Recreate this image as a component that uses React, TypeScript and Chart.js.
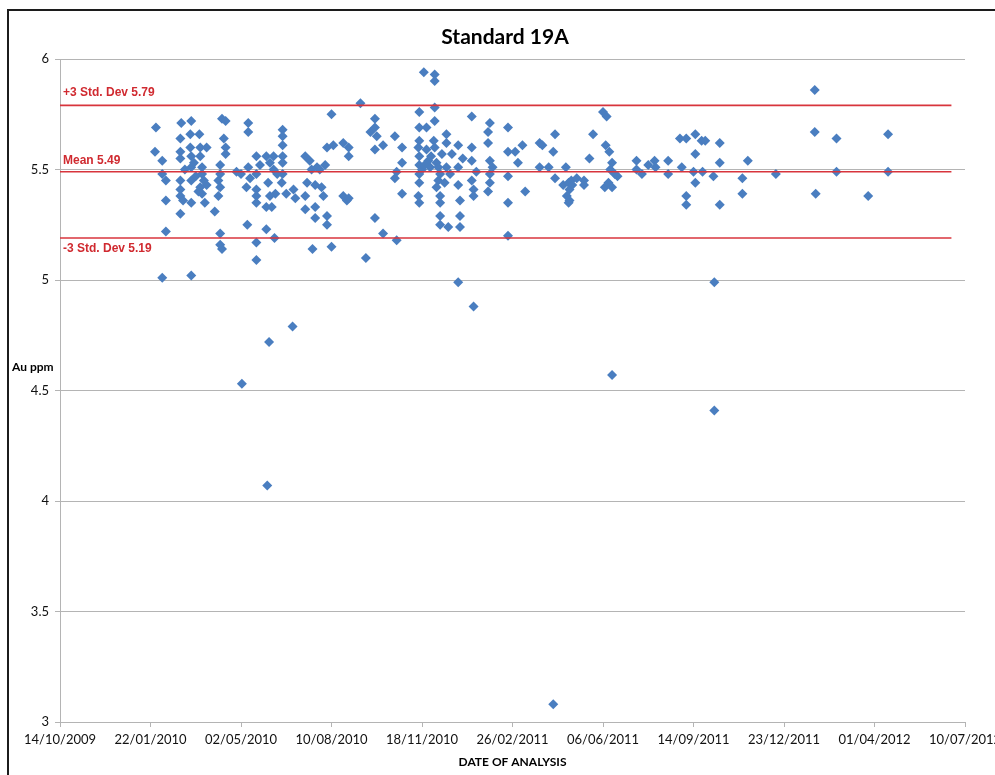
import React, { useEffect, useRef } from "react";
import { Chart, registerables } from "chart.js";

Chart.register(...registerables);

// Chart text
const chartTitle = "Standard 19A";
const yAxisTitle = "Au ppm";
const xAxisTitle = "DATE OF ANALYSIS";

// X axis: Excel date serial numbers (days since 30/12/1899)
const xAxisMin = 40100; // 14/10/2009
const xAxisMax = 41100; // 10/07/2012
const xAxisStep = 100;
const yAxisMin = 3;
const yAxisMax = 6;
const yAxisStep = 0.5;

// Control limits
const limitLabels = ["+3 Std. Dev 5.79", "Mean 5.49", "-3 Std. Dev 5.19"];
const limitValues = [5.79, 5.49, 5.19];
const limitStart = 40100;
const limitEnd = 41085;

// Analysis dates (Excel serials) and Au ppm results
const analysisDate = [
  40206, 40205, 40213, 40213, 40217, 40217, 40217, 40213, 40234, 40245,
  40233, 40244, 40254, 40233, 40233, 40244, 40245, 40245, 40255, 40262,
  40255, 40257, 40257, 40233, 40233, 40233, 40236, 40245, 40233, 40245,
  40255, 40257, 40262, 40260, 40253, 40245, 40279, 40283, 40283, 40283,
  40277, 40277, 40275, 40277, 40275, 40271, 40277, 40277, 40279, 40295,
  40300, 40308, 40308, 40308, 40306, 40317, 40317, 40317, 40317, 40317,
  40307, 40317, 40317, 40328, 40330, 40332, 40336, 40336, 40332, 40328,
  40334, 40338, 40328, 40337, 40346, 40346, 40346, 40346, 40346, 40346,
  40345, 40350, 40358, 40360, 40371, 40376, 40378, 40384, 40373, 40382,
  40371, 40371, 40382, 40382, 40389, 40391, 40395, 40395, 40379, 40400,
  40395, 40402, 40393, 40387, 40400, 40413, 40419, 40419, 40413, 40417,
  40419, 40432, 40443, 40448, 40448, 40450, 40448, 40457, 40448, 40457,
  40438, 40470, 40478, 40478, 40470, 40472, 40478, 40472, 40497, 40502,
  40514, 40514, 40514, 40514, 40497, 40505, 40497, 40496, 40497, 40497,
  40497, 40497, 40496, 40497, 40505, 40507, 40509, 40513, 40514, 40516,
  40520, 40518, 40516, 40520, 40520, 40520, 40520, 40529, 40527, 40527,
  40533, 40527, 40525, 40540, 40540, 40540, 40542, 40542, 40542, 40540,
  40555, 40555, 40555, 40555, 40557, 40557, 40557, 40575, 40573, 40573,
  40575, 40575, 40575, 40573,
  40595, 40595, 40595, 40595, 40595, 40603, 40606, 40611, 40614, 40630,
  40633, 40630, 40640, 40645, 40647, 40647, 40659, 40656, 40662, 40665,
  40671, 40660, 40663, 40662, 40679, 40679, 40685, 40689, 40700, 40704,
  40703, 40707, 40710, 40708, 40702, 40706, 40710, 40713, 40716, 40737,
  40737, 40743, 40750, 40757, 40758, 40772, 40772, 40785, 40792, 40787,
  40792, 40792, 40802, 40802, 40800, 40802, 40809, 40813, 40810, 40822,
  40829, 40829, 40829, 40823, 40854, 40854, 40860, 40891, 40934, 40934,
  40935, 40958, 40958, 40993, 41015, 41015,
  40301, 40331, 40357, 40329, 40710, 40823, 40645,
  40248, 40250, 40259, 40238, 40281, 40310, 40321, 40340, 40500, 40503,
  40510, 40518, 40522, 40531, 40545, 40560, 40578, 40663, 40666,
];

const auPpm = [
  5.69, 5.58, 5.54, 5.48, 5.45, 5.36, 5.22, 5.01, 5.71, 5.72,
  5.64, 5.66, 5.66, 5.58, 5.55, 5.60, 5.56, 5.51, 5.60, 5.60,
  5.56, 5.51, 5.48, 5.45, 5.41, 5.38, 5.36, 5.45, 5.30, 5.35,
  5.42, 5.39, 5.43, 5.35, 5.40, 5.02, 5.73, 5.72, 5.60, 5.57,
  5.52, 5.48, 5.45, 5.42, 5.38, 5.31, 5.21, 5.16, 5.14, 5.49,
  5.48, 5.71, 5.67, 5.51, 5.42, 5.56, 5.48, 5.41, 5.38, 5.35,
  5.25, 5.17, 5.09, 5.56, 5.44, 5.53, 5.56, 5.50, 5.38, 5.33,
  5.33, 5.39, 5.23, 5.19, 5.68, 5.65, 5.61, 5.56, 5.53, 5.48,
  5.44, 5.39, 5.41, 5.37, 5.56, 5.54, 5.50, 5.51, 5.44, 5.43,
  5.38, 5.32, 5.33, 5.28, 5.42, 5.38, 5.29, 5.25, 5.14, 5.75,
  5.60, 5.61, 5.52, 5.50, 5.15, 5.62, 5.60, 5.56, 5.38, 5.36,
  5.37, 5.80, 5.67, 5.73, 5.69, 5.65, 5.59, 5.61, 5.28, 5.21,
  5.10, 5.65, 5.60, 5.53, 5.46, 5.49, 5.39, 5.18, 5.76, 5.94,
  5.93, 5.90, 5.78, 5.72, 5.69, 5.69, 5.63, 5.60, 5.56, 5.52,
  5.48, 5.44, 5.38, 5.35, 5.59, 5.54, 5.51, 5.63, 5.60, 5.53,
  5.48, 5.45, 5.42, 5.38, 5.35, 5.29, 5.25, 5.24, 5.66, 5.62,
  5.57, 5.51, 5.44, 5.61, 5.51, 5.43, 5.36, 5.29, 5.24, 4.99,
  5.74, 5.60, 5.54, 5.45, 5.41, 5.38, 4.88, 5.71, 5.67, 5.62,
  5.54, 5.48, 5.44, 5.40,
  5.69, 5.58, 5.47, 5.35, 5.20, 5.58, 5.53, 5.61, 5.40, 5.62,
  5.61, 5.51, 5.51, 5.58, 5.66, 5.46, 5.51, 5.43, 5.44, 5.45,
  5.46, 5.38, 5.36, 5.35, 5.45, 5.43, 5.55, 5.66, 5.76, 5.74,
  5.61, 5.58, 5.53, 5.50, 5.42, 5.44, 5.42, 5.48, 5.47, 5.54,
  5.50, 5.48, 5.52, 5.54, 5.51, 5.54, 5.48, 5.64, 5.64, 5.51,
  5.38, 5.34, 5.66, 5.57, 5.49, 5.44, 5.63, 5.63, 5.49, 5.47,
  5.62, 5.53, 5.34, 4.99, 5.46, 5.39, 5.54, 5.48, 5.86, 5.67,
  5.39, 5.64, 5.49, 5.38, 5.66, 5.49,
  4.53, 4.72, 4.79, 4.07, 4.57, 4.41, 3.08,
  5.53, 5.47, 5.45, 5.50, 5.64, 5.46, 5.52, 5.48, 5.50, 5.52,
  5.56, 5.51, 5.57, 5.48, 5.55, 5.49, 5.51, 5.41, 5.43,
];

const pointColor = "#4a7ec0";
const limitColor = "#d8343c";
const labelRed = "#d02a30";
const gridColor = "#b4b4b4";
const fontFamily = "Lato, 'Open Sans', sans-serif";

function serialToLabel(serial: number): string {
  const d = new Date(Date.UTC(1899, 11, 30) + Math.round(serial) * 86400000);
  const dd = String(d.getUTCDate()).padStart(2, "0");
  const mm = String(d.getUTCMonth() + 1).padStart(2, "0");
  return `${dd}/${mm}/${d.getUTCFullYear()}`;
}

const textPlugin = {
  id: "chartTexts",
  afterDraw(chart: any) {
    const { ctx, chartArea, scales } = chart;
    const y = scales.y;
    ctx.save();
    ctx.fillStyle = "#000";
    ctx.textBaseline = "middle";
    ctx.textAlign = "center";
    ctx.font = `bold 21px ${fontFamily}`;
    ctx.fillText(chartTitle, 505, 37);

    ctx.font = `bold 12px ${fontFamily}`;
    ctx.textAlign = "left";
    ctx.fillText(yAxisTitle, 12, 367);

    ctx.textAlign = "center";
    ctx.fillText(xAxisTitle, (chartArea.left + chartArea.right) / 2, 762);

    ctx.font = `bold 12px 'Liberation Sans', Arial, sans-serif`;
    ctx.fillStyle = labelRed;
    ctx.textAlign = "left";
    limitLabels.forEach((label, i) => {
      const py = y.getPixelForValue(limitValues[i]);
      const offset = i === 2 ? 11 : i === 0 ? -13 : -11;
      ctx.fillText(label, chartArea.left + 3, py + offset);
    });
    ctx.restore();
  },
};

export default function App() {
  const canvasRef = useRef<HTMLCanvasElement | null>(null);

  useEffect(() => {
    if (!canvasRef.current) return;
    const limitDatasets = limitValues.map((v, i) => ({
      type: "scatter" as const,
      label: limitLabels[i],
      data: [
        { x: limitStart, y: v },
        { x: limitEnd, y: v },
      ],
      showLine: true,
      borderColor: limitColor,
      borderWidth: 1.6,
      pointRadius: 0,
      fill: false,
    }));
    const chart = new Chart(canvasRef.current, {
      type: "scatter",
      data: {
        datasets: [
          ...limitDatasets,
          {
            label: "Au ppm",
            data: analysisDate.map((d, i) => ({ x: d, y: auPpm[i] })),
            pointStyle: "rectRot",
            pointRadius: 5,
            pointBackgroundColor: pointColor,
            pointBorderColor: pointColor,
            pointBorderWidth: 0,
          },
        ],
      },
      options: {
        responsive: false,
        animation: false,
        events: [],
        layout: { padding: { top: 59, right: 30, left: 0, bottom: 0 } },
        plugins: {
          legend: { display: false },
          title: { display: false },
          tooltip: { enabled: false },
        },
        scales: {
          x: {
            type: "linear",
            min: xAxisMin,
            max: xAxisMax,
            afterBuildTicks(scale: any) {
              const t = [];
              for (let v = xAxisMin; v <= xAxisMax; v += xAxisStep) t.push({ value: v });
              scale.ticks = t;
            },
            afterFit(scale: any) {
              scale.height = 53;
              scale.paddingLeft = 0;
              scale.paddingRight = 0;
            },
            ticks: {
              callback: (v: any) => serialToLabel(Number(v)),
              font: { family: fontFamily, size: 13 },
              color: "#111",
              padding: 5,
              maxRotation: 0,
              autoSkip: false,
            },
            grid: {
              drawOnChartArea: false,
              drawTicks: true,
              tickLength: 5,
              color: gridColor,
            },
            border: { display: true, color: gridColor, width: 1 },
          },
          y: {
            type: "linear",
            min: yAxisMin,
            max: yAxisMax,
            afterFit(scale: any) {
              scale.width = 60;
            },
            ticks: {
              stepSize: yAxisStep,
              callback: (v: any) => String(Number(v)),
              font: { family: fontFamily, size: 13 },
              color: "#111",
              padding: 6,
            },
            grid: {
              color: gridColor,
              drawTicks: true,
              tickLength: 5,
            },
            border: { display: true, color: gridColor, width: 1 },
          },
        },
      },
      plugins: [textPlugin],
    });
    return () => chart.destroy();
  }, []);

  return (
    <div
      style={{
        position: "fixed",
        left: 0,
        top: 0,
        width: 995,
        height: 775,
        background: "#fff",
        overflow: "hidden",
      }}
    >
      <canvas
        ref={canvasRef}
        width={995}
        height={775}
        style={{ position: "absolute", left: 0, top: 0 }}
      />
      <div
        style={{
          position: "absolute",
          left: 7,
          top: 9,
          width: 1100,
          height: 900,
          borderTop: "2px solid #1c1c1c",
          borderLeft: "2px solid #1c1c1c",
          pointerEvents: "none",
        }}
      />
    </div>
  );
}
